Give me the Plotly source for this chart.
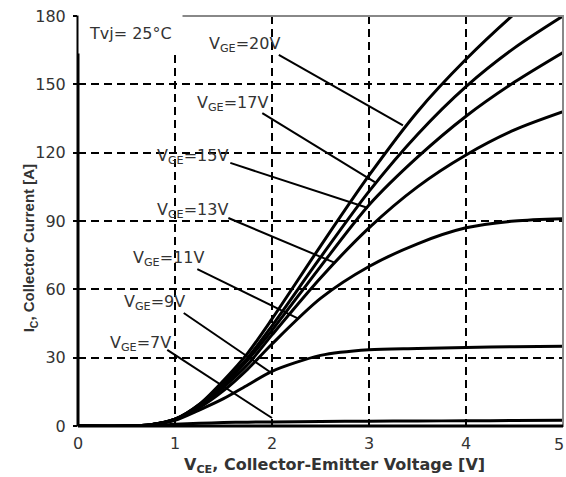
import plotly.graph_objects as go

# Data (V_CE in V, I_C in A)
vce = [0, 0.5, 0.75, 1.0, 1.25, 1.5, 1.75, 2.0, 2.5, 3.0, 3.5, 4.0, 4.5, 5.0]
ic_20 = [0, 0, 0.6, 3, 9.5, 20, 32, 47, 79, 110, 138, 161, 181, 199]
ic_17 = [0, 0, 0.6, 3, 9.5, 19, 30, 44, 74, 103, 128, 149, 166, 180]
ic_15 = [0, 0, 0.6, 3, 9, 18, 29, 42, 70, 97, 118, 136, 151, 164]
ic_13 = [0, 0, 0.6, 3, 8.5, 17, 27, 40, 65, 87, 105, 119, 130, 138]
ic_11 = [0, 0, 0.6, 2.8, 8, 15.5, 25, 36, 56, 70, 80, 87, 90, 91]
ic_9 = [0, 0, 0.5, 2.5, 7, 12, 18, 24, 31, 33.5, 34, 34.5, 34.8, 35]
ic_7 = [0, 0, 0.2, 0.8, 1.2, 1.5, 1.7, 1.8, 2.0, 2.1, 2.2, 2.3, 2.4, 2.5]

series = [ic_20, ic_17, ic_15, ic_13, ic_11, ic_9, ic_7]

labels = ["20V", "17V", "15V", "13V", "11V", "9V", "7V"]
# label text centres (data coords) and leader lines (start -> end)
label_x = [1.72, 1.59, 1.18, 1.18, 0.93, 0.79, 0.64]
label_y = [167.7, 141.8, 118.1, 94.8, 73.7, 54.4, 36.4]
lead_x0 = [2.07, 1.90, 1.57, 1.55, 1.23, 1.09, 0.92]
lead_y0 = [162.9, 137.4, 115.5, 91.3, 68.9, 49.6, 33.4]
lead_x1 = [3.35, 3.06, 2.99, 2.65, 2.26, 1.98, 2.00]
lead_y1 = [132.0, 107.1, 95.7, 71.6, 47.4, 23.7, 3.5]

x_ticks = [0, 1, 2, 3, 4, 5]
x_tick_labels = ["0", "1", "2", "3", "4", "5"]
y_ticks = [0, 30, 60, 90, 120, 150, 180]
y_tick_labels = ["0", "30", "60", "90", "120", "150", "180"]

FONT = "DejaVu Sans, sans-serif"
FONT_Y = "Liberation Sans, Arial, sans-serif"
TXT = "#333333"

fig = go.Figure()

for ys in series:
    fig.add_trace(go.Scatter(
        x=vce, y=ys, mode="lines",
        line=dict(color="black", width=3, shape="spline", smoothing=0.8),
        showlegend=False, hoverinfo="skip",
    ))

shapes = []
for i in range(len(labels)):
    shapes.append(dict(type="line", xref="x", yref="y",
                       x0=lead_x0[i], y0=lead_y0[i], x1=lead_x1[i], y1=lead_y1[i],
                       line=dict(color="black", width=2)))
# outer frame (thin grey top/right)
shapes.append(dict(type="rect", xref="paper", yref="paper", x0=0, y0=0, x1=1, y1=1,
                   line=dict(color="#888888", width=2), layer="above"))
# thick left / bottom axis lines
shapes.append(dict(type="line", xref="paper", yref="paper", x0=0, y0=0, x1=0, y1=1,
                   line=dict(color="black", width=3), layer="above"))
shapes.append(dict(type="line", xref="paper", yref="paper", x0=0, y0=0, x1=1, y1=0,
                   line=dict(color="black", width=3), layer="above"))

annotations = []
for i, lab in enumerate(labels):
    annotations.append(dict(
        x=label_x[i], y=label_y[i], xref="x", yref="y",
        text="V<sub>GE</sub>=" + lab, showarrow=False,
        font=dict(family=FONT, size=16, color=TXT),
    ))
annotations.append(dict(
    x=0.005, y=172.5, xref="x", yref="y", xanchor="left",
    text="Tvj= 25°C", showarrow=False, bgcolor="white", borderpad=10,
    font=dict(family=FONT, size=16, color=TXT),
))
annotations.append(dict(
    x=(334 - 78) / 485, y=-0.097, xref="paper", yref="paper", yanchor="middle",
    text="<b>V<sub>CE</sub>, Collector-Emitter Voltage [V]</b>", showarrow=False,
    font=dict(family=FONT, size=16, color=TXT),
))
annotations.append(dict(
    x=-0.124, y=(426 - 248) / 410, xref="paper", yref="paper",
    text="<b>I<sub>C</sub>, Collector Current [A]</b>", showarrow=False, textangle=-90,
    font=dict(family=FONT_Y, size=15, color=TXT),
))
# last x tick label, kept inside the page edge
annotations.append(dict(
    x=x_ticks[-1], y=0, xref="x", yref="paper", xanchor="right", yanchor="top",
    xshift=3, yshift=-7, text=x_tick_labels[-1], showarrow=False,
    font=dict(family=FONT, size=16, color=TXT),
))

fig.update_layout(
    width=566, height=477,
    margin=dict(l=78, r=3, t=16, b=51, autoexpand=False),
    paper_bgcolor="white", plot_bgcolor="white",
    shapes=shapes, annotations=annotations,
    font=dict(family=FONT, size=16, color=TXT),
)
fig.update_xaxes(
    range=[0, 5], tickvals=x_ticks, ticktext=x_tick_labels[:-1] + [""],
    showgrid=True, gridcolor="black", gridwidth=2, griddash="8px,5px",
    zeroline=False, showline=False, ticks="", ticklabelstandoff=6,
    ticklabeloverflow="allow", automargin=False,
    tickfont=dict(family=FONT, size=16, color=TXT),
)
fig.update_yaxes(
    range=[0, 180], tickvals=y_ticks, ticktext=y_tick_labels,
    showgrid=True, gridcolor="black", gridwidth=2, griddash="8px,5px",
    zeroline=False, showline=False, ticks="outside", ticklen=4, tickcolor="black",
    tickwidth=2, ticklabelstandoff=4, ticklabeloverflow="allow", automargin=False,
    tickfont=dict(family=FONT, size=16, color=TXT),
)

fig.write_html(
    "out.html",
    config={"displayModeBar": False},
    post_script="document.body.style.margin='0';document.body.style.overflow='hidden';",
)
